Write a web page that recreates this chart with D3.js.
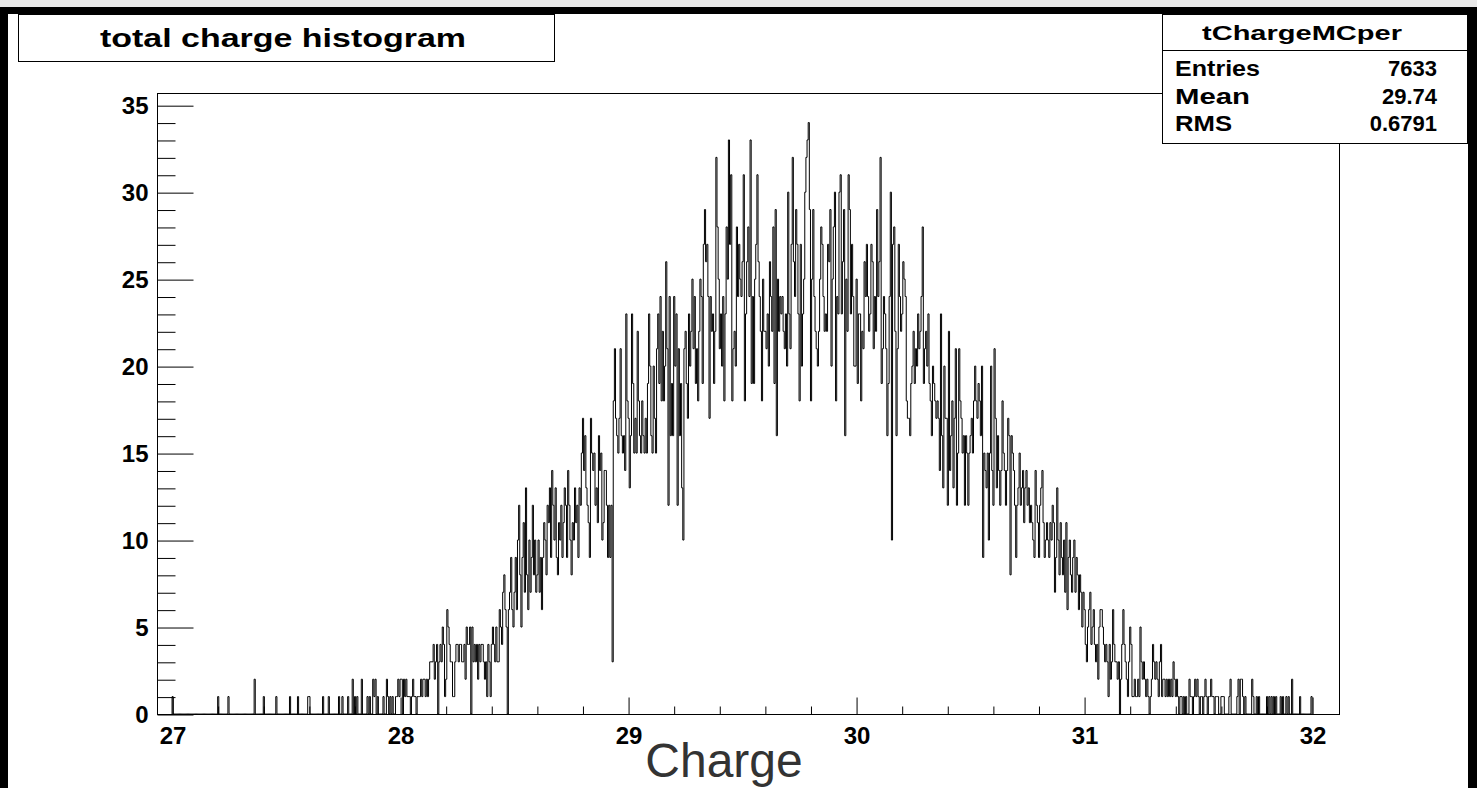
<!DOCTYPE html>
<html>
<head>
<meta charset="utf-8">
<script src="https://cdn.jsdelivr.net/npm/d3@7"></script>
<style>
  body { margin: 0; background: #fff; }
  svg { display: block; font-family: "Liberation Sans", Arial, Helvetica, sans-serif; }
</style>
</head>
<body>
<div id="vis"></div>
<script>
// bin contents, 0.005 wide bins, one array per unit of charge
const counts27 = [
  1,0,0,0,0,0,0,0,0,0,0,0,0,0,0,0,0,0,0,0,
  0,0,0,0,0,0,0,0,0,0,0,0,0,0,0,0,0,0,0,0,
  1,0,0,0,0,0,0,0,0,1,0,0,0,0,0,0,0,0,0,0,
  0,0,0,0,0,0,0,0,0,0,0,0,2,0,0,0,0,0,0,0,
  1,0,0,0,0,0,0,0,0,0,0,1,0,0,0,0,0,0,0,0,
  0,0,0,1,0,0,0,0,0,0,1,0,0,0,0,0,0,0,0,1,
  1,0,0,0,0,0,0,0,0,0,0,0,1,0,0,0,0,1,0,0,
  0,0,0,0,0,0,1,0,0,1,0,0,0,0,1,0,0,0,2,0,
  1,0,1,0,0,0,2,0,0,0,0,1,0,1,0,0,2,1,2,0,
  1,0,0,0,0,1,0,0,2,1,0,1,0,1,0,0,1,1,2,1
];
const counts28 = [
  2,2,0,2,1,2,1,1,1,0,1,2,1,1,0,1,1,1,2,1,
  2,2,1,2,1,2,3,3,3,4,2,3,4,0,3,4,3,5,4,1,
  2,6,5,4,3,3,1,1,3,4,4,3,4,4,3,3,4,2,5,4,
  4,5,0,5,3,4,3,4,2,4,3,4,4,3,2,3,1,4,3,1,
  4,5,4,3,5,3,3,6,5,4,7,8,6,5,0,6,7,9,6,5,
  7,9,6,10,12,8,5,9,11,7,13,8,6,10,7,9,12,8,10,7,
  8,10,7,9,6,9,11,10,8,12,11,13,9,14,12,10,13,9,8,11,
  10,12,9,11,13,12,9,14,12,10,8,11,10,13,11,12,9,13,12,15,
  17,14,16,13,12,11,9,17,15,14,15,12,13,11,16,14,15,10,11,14,
  14,12,9,12,9,12,3,18,21,17,16,15,17,21,16,15,16,14,23,18
];
const counts29 = [
  17,13,16,23,19,15,17,15,22,18,16,15,18,16,15,17,15,19,23,20,
  16,15,20,17,15,21,23,19,24,18,22,18,20,26,21,12,24,16,19,16,
  24,20,23,12,21,16,19,13,10,21,22,19,17,23,20,22,25,21,24,19,
  21,18,22,25,24,19,27,29,26,27,24,17,24,22,23,19,22,32,28,25,
  21,23,20,24,18,23,28,25,33,27,31,18,21,22,20,28,24,27,25,24,
  26,31,18,23,26,28,24,33,19,24,19,25,27,31,26,24,22,18,25,22,
  22,21,23,20,26,24,22,28,19,29,16,25,22,24,23,24,22,21,23,20,
  30,23,21,27,32,26,24,29,27,23,18,27,20,23,25,30,32,33,34,29,
  18,25,29,24,22,21,20,22,25,28,27,24,22,23,22,27,26,29,20,25,
  28,30,18,24,23,30,31,23,26,29,16,25,22,31,29,23,27,24,20,20
];
const counts30 = [
  25,19,23,23,18,22,21,26,24,27,24,22,23,27,26,21,24,22,29,24,
  26,32,19,21,24,23,21,16,19,24,30,10,27,28,22,16,21,27,24,22,
  23,26,25,24,18,17,17,16,19,20,22,19,21,20,23,21,22,24,28,19,
  21,22,20,23,19,18,16,20,19,18,17,18,17,14,23,16,13,20,17,17,
  12,22,14,16,18,13,17,21,12,15,21,18,17,15,16,12,16,15,12,15,
  16,17,15,18,20,18,17,19,18,16,20,9,15,14,13,15,10,15,20,14,
  12,21,17,13,16,14,12,14,18,15,14,12,14,17,16,8,16,15,14,12,
  9,12,13,15,12,13,14,11,13,14,12,13,11,12,11,10,9,14,12,11,
  9,12,13,14,11,9,10,11,10,9,11,10,12,11,7,9,13,10,8,11,
  9,8,10,7,11,6,9,10,8,7,9,10,7,9,8,6,8,7,5,7
];
const counts31 = [
  6,4,3,5,6,7,4,5,6,4,3,4,2,5,6,6,5,4,3,4,
  3,1,4,2,3,6,4,3,3,2,3,0,2,4,6,4,3,2,1,3,
  5,4,1,1,2,1,1,2,1,5,3,2,3,2,1,2,1,0,1,2,
  4,3,2,3,2,1,3,4,1,2,2,1,2,1,2,1,2,1,3,2,
  1,2,1,0,1,1,0,1,0,1,0,0,2,1,1,0,1,2,1,2,
  1,0,1,1,0,1,2,1,0,1,1,2,1,1,0,1,1,1,0,0,
  1,1,1,0,0,0,0,1,2,0,0,0,0,0,1,2,0,2,2,1,
  0,1,0,0,0,0,0,2,1,0,0,1,0,1,0,0,0,0,0,0,
  1,0,1,0,1,0,1,0,1,0,0,0,1,0,1,0,0,1,0,1,
  0,0,2,0,0,0,0,0,0,1,0,0,0,0,0,0,0,0,0,1
];
const binStart = 27, binWidth = 0.005;
const xRange = [26.934, 32.118];
const yMax = 35.7;
const xMajor = [27, 28, 29, 30, 31, 32];
const yMajor = [0, 5, 10, 15, 20, 25, 30, 35];
const histTitle = "total charge histogram";
const statsName = "tChargeMCper";
const statsRows = [["Entries", "7633"], ["Mean", "29.74"], ["RMS", "0.6791"]];
const xTitle = "Charge";

const WIDTH = 1477, HEIGHT = 788;
const frame = { left: 157, right: 1339, top: 93, bottom: 714 };

const svg = d3.select("#vis").append("svg").attr("width", WIDTH).attr("height", HEIGHT);

// marco de la ventana
svg.append("rect").attr("x", 0).attr("y", 0).attr("width", WIDTH).attr("height", 7).attr("fill", "#e8e8e8");
svg.append("rect").attr("x", 0).attr("y", 7).attr("width", WIDTH).attr("height", 7).attr("fill", "#000");
svg.append("rect").attr("x", 0).attr("y", 7).attr("width", 8).attr("height", HEIGHT).attr("fill", "#000");
svg.append("rect").attr("x", 1468).attr("y", 7).attr("width", 9).attr("height", HEIGHT).attr("fill", "#000");

const x = d3.scaleLinear().domain(xRange).range([frame.left, frame.right]);
const y = d3.scaleLinear().domain([0, yMax]).range([frame.bottom, frame.top]);

const counts = [].concat(counts27, counts28, counts29, counts30, counts31);
const pts = [{ x: binStart, y: 0 }];
counts.forEach((c, i) => pts.push({ x: binStart + i * binWidth, y: c }));
pts.push({ x: binStart + counts.length * binWidth, y: 0 });

svg.append("path")
  .datum(pts)
  .attr("fill", "none")
  .attr("stroke", "#000")
  .attr("stroke-width", 1)
  .attr("d", d3.line().x(d => x(d.x)).y(d => y(d.y)).curve(d3.curveStepAfter));

// marco del grafico
svg.append("rect")
  .attr("x", frame.left + 0.5).attr("y", frame.top + 0.5)
  .attr("width", frame.right - frame.left).attr("height", frame.bottom - frame.top)
  .attr("fill", "none").attr("stroke", "#000");

// ejes
const xMinor = d3.range(0, 26).map(k => 27 + k * 0.2).filter((d, k) => k % 5 !== 0);
const yMinor = d3.range(0, 36).filter(d => d % 5 !== 0);

const gx = svg.append("g").attr("transform", `translate(0.5,${frame.bottom + 0.5})`);
gx.call(d3.axisBottom(x).tickValues(xMajor).tickSize(-17).tickPadding(12).tickFormat(d3.format("d")));
gx.append("g").call(d3.axisBottom(x).tickValues(xMinor).tickSize(-8).tickFormat(""));

const gy = svg.append("g").attr("transform", `translate(${frame.left + 0.5},0.5)`);
gy.call(d3.axisLeft(y).tickValues(yMajor).tickSize(-36).tickPadding(9).tickFormat(d3.format("d")));
gy.append("g").call(d3.axisLeft(y).tickValues(yMinor).tickSize(-18).tickFormat(""));

svg.selectAll(".domain").remove();
svg.selectAll(".tick line").attr("stroke", "#000");
svg.selectAll(".tick text")
  .attr("fill", "#000")
  .style("font-size", "24px")
  .style("font-weight", "bold");

svg.append("text")
  .attr("x", 724).attr("y", 777)
  .attr("text-anchor", "middle")
  .attr("fill", "#333")
  .style("font-size", "48px")
  .text(xTitle);

// caja del titulo
svg.append("rect").attr("x", 18.5).attr("y", 14.5).attr("width", 536).attr("height", 47)
  .attr("fill", "#fff").attr("stroke", "#000");
svg.append("text").attr("x", 283).attr("y", 47).attr("text-anchor", "middle")
  .attr("textLength", 366).attr("lengthAdjust", "spacingAndGlyphs")
  .style("font-size", "25px").style("font-weight", "bold").text(histTitle);

// caja de estadisticas
const stats = svg.append("g");
stats.append("rect").attr("x", 1162.5).attr("y", 14.5).attr("width", 305).attr("height", 129)
  .attr("fill", "#fff").attr("stroke", "#000");
stats.append("line").attr("x1", 1162.5).attr("x2", 1467.5).attr("y1", 50.5).attr("y2", 50.5).attr("stroke", "#000");
stats.append("text").attr("x", 1302).attr("y", 40).attr("text-anchor", "middle")
  .attr("textLength", 200).attr("lengthAdjust", "spacingAndGlyphs")
  .style("font-size", "21px").style("font-weight", "bold").text(statsName);
const labelWidths = [85, 75, 57];
statsRows.forEach((r, i) => {
  const ty = 76 + i * 27.5;
  stats.append("text").attr("x", 1175).attr("y", ty)
    .attr("textLength", labelWidths[i]).attr("lengthAdjust", "spacingAndGlyphs")
    .style("font-size", "22px").style("font-weight", "bold").text(r[0]);
  stats.append("text").attr("x", 1437).attr("y", ty).attr("text-anchor", "end")
    .style("font-size", "22px").style("font-weight", "bold").text(r[1]);
});
</script>
</body>
</html>
